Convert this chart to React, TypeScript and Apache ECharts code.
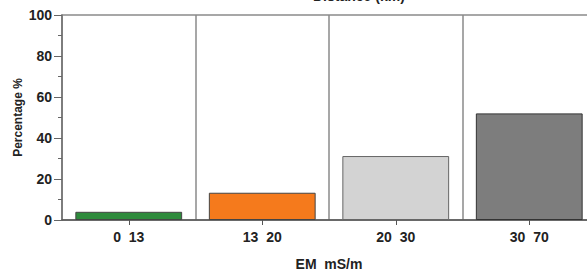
import React, { useEffect, useRef } from "react";
import * as echarts from "echarts";

const categories = ["0  13", "13  20", "20  30", "30  70"];
const values = [4, 13.3, 31.2, 52];
const barColors = ["#2e8b3c", "#f57a1c", "#d3d3d3", "#7d7d7d"];
const yTicks = [0, 20, 40, 60, 80, 100];

export default function App() {
  const ref = useRef<HTMLDivElement>(null);
  useEffect(() => {
    if (!ref.current) return;
    const chart = echarts.init(ref.current, null, { renderer: "svg" });
    const font = "Liberation Sans, Arial, sans-serif";
    chart.setOption({
      animation: false,
      backgroundColor: "#ffffff",
      grid: {
        left: 62,
        top: 15,
        width: 534,
        height: 205,
        containLabel: false,
        outerBoundsMode: "none",
        show: true,
        borderColor: "#8a8a8a",
        borderWidth: 1.5,
      },
      graphic: [
        {
          type: "text",
          left: 313,
          top: -11,
          style: {
            text: "Distance (km)",
            font: "bold 14px Liberation Sans, Arial, sans-serif",
            fill: "#222",
          },
        },
      ],
      xAxis: {
        type: "category",
        data: categories,
        boundaryGap: true,
        name: "EM  mS/m",
        nameLocation: "middle",
        nameGap: 37,
        nameMoveOverlap: false,
        nameTextStyle: { fontFamily: font, fontSize: 14, fontWeight: "bold", color: "#222" },
        axisLine: { show: true, lineStyle: { color: "#555", width: 1.5 } },
        axisTick: { show: true, alignWithLabel: true, length: 5, lineStyle: { color: "#555" } },
        axisLabel: {
          fontFamily: font,
          fontSize: 14,
          fontWeight: "bold",
          color: "#222",
          margin: 10,
          interval: 0,
        },
        splitLine: { show: true, interval: 0, lineStyle: { color: "#8a8a8a", width: 1.5 } },
      },
      yAxis: {
        type: "value",
        min: 0,
        max: 100,
        interval: 20,
        name: "Percentage %",
        nameLocation: "middle",
        nameGap: 38,
        nameMoveOverlap: false,
        nameTextStyle: { fontFamily: font, fontSize: 12, fontWeight: "bold", color: "#222" },
        axisLine: { show: true, lineStyle: { color: "#777", width: 1.5 } },
        axisTick: { show: true, length: 8, lineStyle: { color: "#666" } },
        minorTick: { show: true, splitNumber: 2, length: 4, lineStyle: { color: "#666" } },
        axisLabel: {
          fontFamily: font,
          fontSize: 14,
          fontWeight: "bold",
          color: "#222",
          margin: 10,
          formatter: (v: number) => (yTicks.includes(v) ? String(v) : ""),
        },
        splitLine: { show: false },
      },
      series: [
        {
          type: "bar",
          barWidth: "80%",
          data: values.map((v, i) => ({
            value: v,
            itemStyle: {
              color: barColors[i],
              borderColor: i === 3 ? "#333" : i === 2 ? "#666" : "#444",
              borderWidth: 1,
            },
          })),
        },
      ],
    });
    return () => chart.dispose();
  }, []);
  return <div ref={ref} style={{ width: 587, height: 271, position: "absolute", left: 0, top: 0 }} />;
}
